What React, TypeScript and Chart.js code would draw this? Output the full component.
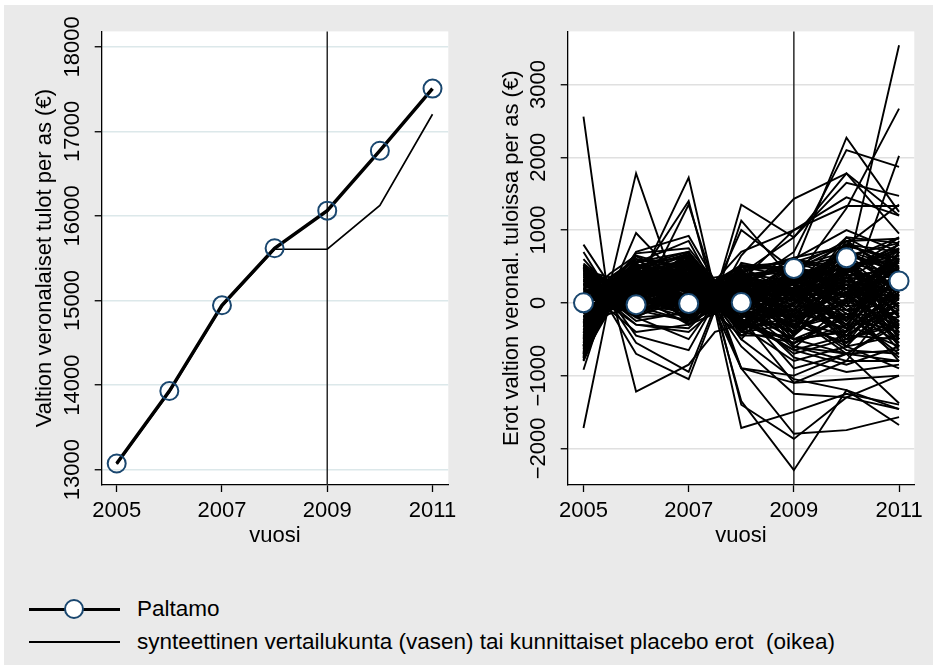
import React, { useEffect, useRef } from 'react';
import { Chart, registerables } from 'chart.js';

Chart.register(...registerables);

// ---------- data ----------
const years = [2005, 2006, 2007, 2008, 2009, 2010, 2011];
const paltamoIncome = [13072, 13929, 14943, 15618, 16062, 16771, 17506];
const syntheticIncome = [13063, 13915, 14930, 15606, 15606, 16125, 17202];
const paltamoGap = [0, -25, -10, 5, 471, 619, 300];

const placeboYears = [2005, 2005.5, 2006, 2007, 2007.5, 2008, 2009, 2010, 2011];
// each row: one municipality's placebo gap at placeboYears
const placeboOutliers: number[][] = [
  [2560, -60, 150, 80, 20, 120, 250, 380, 450],
  [-1720, 40, -250, -120, 60, -80, -300, -150, -350],
  [800, 250, 1780, -300, 100, 300, 150, 600, 900],
  [700, 120, 960, 200, -50, 250, 600, 1000, 700],
  [-920, 200, -1220, -850, -400, -300, -500, -200, -400],
  [300, 100, 200, 1720, 150, 400, 900, 1780, 1200],
  [100, 0, 300, 1400, 50, 1130, 300, 500, 600],
  [-200, 50, -100, 1350, 200, 1000, 450, 800, 1350],
  [400, 150, 700, 920, 300, 700, 1000, 1450, 1200],
  [-500, -100, -700, -1050, -100, -1720, -1500, -1250, -1400],
  [200, 50, -450, -650, 0, -1400, -1870, -1300, -1000],
  [-300, 0, -550, -950, -50, -1350, -2300, -1200, -1460],
  [500, 200, 400, 600, 100, -900, -1800, -1750, -1570],
  [-100, 100, 200, 300, 0, 650, 1430, 1780, 950],
  [150, 80, 300, 400, 100, 300, 500, 2270, 1250],
  [-50, 20, 100, -100, -30, 200, 700, 2100, 1870],
  [0, 0, -50, 100, 50, 100, 200, 400, 3540],
  [250, 100, 350, 200, 50, 400, 300, 1300, 2670],
  [100, 50, 0, -200, 0, 0, -200, 0, 2020],
  [-400, -50, -300, -350, 0, -500, -1050, -1200, -1680],
  [350, 150, 500, 650, 100, 1350, 900, 1650, 1470],
  [-600, -100, -400, -300, -50, -600, -1250, -1300, -1460],
  [600, 200, 550, 850, 200, 300, 1000, 1330, 1330],
  [-800, 0, -200, -500, 0, -900, -1100, -1050, -1000],
  [450, 100, 300, 500, 50, -200, -1100, -800, -800],
  [-700, 0, -300, -400, -100, -900, -1000, -700, -1380],
];
const placeboDense: number[][] = [
  [-780, 20, -150, 120, 30, -400, -550, -300, -600],
  [540, 250, 680, 750, 300, 520, 480, 850, 880],
  [-650, -100, 100, -300, -150, 200, -400, 600, -500],
  [300, 150, 420, 380, 200, 300, 100, -200, 300],
  [-200, 50, -180, 50, 0, -100, 300, 200, 650],
  [120, 300, 250, -250, 100, 450, -300, -550, -100],
  [-450, -50, 50, 400, 250, -300, 150, 700, 400],
  [450, 350, 600, 200, -100, 100, 500, 300, -300],
  [-700, 100, -100, 600, 150, 250, -500, -400, 200],
  [0, 200, 300, -100, 50, -450, 0, 450, 800],
  [-350, -150, -50, 250, 300, 500, 350, -100, -550],
  [200, 0, 150, 700, 50, -200, -100, 100, 100],
  [-550, 250, 450, -200, -50, 50, 250, 650, 500],
  [380, 100, -120, 100, 200, 350, -250, -450, 0],
  [-100, -80, 350, 500, 100, -350, 450, 250, -250],
  [-750, 300, 200, 0, -100, 150, -350, 800, 700],
  [250, 50, 500, -300, 0, -150, 200, -300, 350],
  [-300, 150, 0, 300, 350, 400, -450, 150, -450],
  [500, -50, 250, 650, 150, 0, 50, 500, 600],
  [-600, 200, -200, -150, 0, -500, 300, -600, 150],
  [50, 400, 650, 450, 250, 250, -150, 350, -150],
  [-400, 0, 100, -50, -150, 100, 550, 50, 450],
  [350, 250, 300, 150, 50, -250, -550, -200, -400],
  [-150, 100, -100, 550, 200, 300, 0, 750, 250],
  [150, -100, 400, 300, -50, 550, 400, -50, 750],
  [-500, 50, 550, -100, 100, -50, -200, 400, -350],
  [420, 300, 100, 200, 300, 200, 150, -450, 50],
  [-250, -50, 200, 400, 0, -400, -300, 200, 550],
  [-680, 150, 350, 100, 150, 50, 350, 600, -50],
  [280, 200, -50, -250, -100, 350, 250, 100, 200],
  [-50, 350, 500, 700, 250, -300, -100, -350, 850],
  [-720, -100, 0, 0, 50, 150, 100, 300, 100],
  [520, 50, 300, 350, 100, -100, -400, 550, -200],
  [-380, 250, 150, -200, 200, 450, 500, -100, 300],
  [80, 0, 600, 500, 0, 0, -50, 850, 400],
  [-480, 100, -150, 150, -50, -200, 200, -500, -300],
  [330, 150, 250, 600, 300, 250, -200, 50, 600],
  [-280, 300, 400, -50, 100, 100, 400, 250, -100],
  [480, -100, 50, 250, -150, -450, -450, 450, 50],
  [-620, 50, 200, 450, 150, 300, 50, -250, 700],
  [180, 200, -150, 100, 50, -350, 300, 700, -400],
  [-80, 0, 450, -150, 250, 200, -250, 0, 500],
  [-520, 150, 100, 350, 100, 500, 450, 350, 250],
  [400, 250, 550, 0, 0, -100, -500, -400, 150],
  [-180, -50, 250, 200, 200, 400, 150, 600, -500],
  [-760, 100, -50, 550, 50, -250, -150, 150, 350],
  [220, 300, 350, -100, 150, 150, 350, -150, -200],
  [-320, 50, 150, 450, -100, 0, -350, 500, 650],
  [100, 200, 500, 250, 250, 350, 200, -550, 0],
  [-420, 0, -100, -250, 50, -300, 0, 250, 300],
  [440, 100, 200, 650, 100, 250, 550, 100, -350],
  [-580, 250, 0, 100, 0, -150, -100, 650, 200],
  [20, 50, 300, 300, 150, 100, 250, -250, 450],
  [-700, 150, 250, 50, 200, 450, -450, 350, -50],
  [300, 0, 100, 400, 50, -400, 100, 800, 550],
  [-240, 300, 450, -300, 100, 200, 350, -350, 100],
  [180, 100, -200, 150, 0, 50, -250, 200, -450],
  [-460, 200, 350, 500, 300, -50, 450, 450, 750],
  [360, 50, 0, -50, 50, 300, -50, -100, -150],
  [-660, 100, 200, 200, 150, 0, 200, 100, 300],
  [-100, 0, 120, 180, 80, 200, -600, -700, -800],
  [420, 220, 380, 520, 180, 420, 620, 780, 600],
  [-560, -20, 80, 320, 120, -150, -700, -500, -250],
  [260, 120, 260, 80, 40, 60, 300, 650, 820],
  [-330, 80, -60, 220, 160, 280, -150, -650, -700],
  [60, 180, 420, 580, 220, -80, 420, 300, 150],
  [-740, 40, 160, 40, -60, -320, -800, -600, -900],
  [480, 300, 520, 300, 100, 180, 250, 900, 500],
  [-420, 120, 280, 460, 200, 380, 120, -300, 600],
  [150, -60, 80, -180, -80, -220, -650, -850, -600],
  [-260, 200, 340, 140, 60, 20, 500, 700, 300],
  [380, 80, 220, 420, 260, 460, -200, 150, -650],
  [-640, 160, 60, -80, 40, -380, 80, 550, 400],
  [40, 260, 560, 620, 180, 120, 380, -200, 700],
  [-520, -80, -120, 160, 100, 240, -500, -700, -300],
  [320, 160, 120, 260, 20, -280, 220, 400, 900],
  [-180, 60, 380, 40, 120, 520, -350, -150, -750],
  [-790, 200, 240, 360, 220, 80, 150, 250, 50],
  [500, 120, 460, 680, 240, 380, 480, 650, 450],
  [-360, 20, -40, -120, -40, -60, -750, -950, -850],
  [200, 320, 600, 500, 300, 160, 280, 500, -300],
  [-480, 140, 180, 280, 80, -200, 60, -400, 200],
  [100, 40, -80, 60, 160, 300, 520, 150, 600],
  [-600, 240, 300, -60, -20, 40, -300, 300, -600],
  [260, 100, 400, 560, 140, 220, -100, 850, 350],
  [-220, -40, 60, 380, 220, -120, 380, -50, 100],
  [440, 280, 480, 120, 60, 340, 180, -350, -100],
  [-700, 80, 120, 240, 40, -260, -650, -450, -500],
  [-20, 160, 320, 420, 260, 420, 600, 400, 800],
  [360, 40, 180, -40, 0, 120, -400, 50, 250],
  [-440, 220, 500, 300, 140, 60, 250, 750, 150],
  [140, 120, 40, 200, 100, -340, -200, -600, -450],
  [-300, 40, 260, 520, 180, 180, 400, 200, 500],
  [520, 200, 340, 460, 280, 500, 100, 600, -200],
  [-580, 100, 0, 100, 60, -80, -900, -700, -650],
  [0, 300, 440, 260, 200, 260, 320, 100, 450],
  [-150, 0, 200, 80, -60, 380, -100, 500, 700],
  [300, 220, 520, 360, 160, -40, 450, -100, 0],
  [-680, 60, 100, 420, 240, 100, -250, 350, -350],
  [220, 160, 300, 600, 80, 260, 150, 300, 550],
  [-540, 90, 30, -20, 70, 170, -120, -350, 380],
  [410, 260, 640, 330, 170, -60, 330, 560, -80],
  [-90, -30, 140, 560, 230, 310, 80, 200, -250],
  [-730, 140, -60, 240, 10, -190, 520, -250, 620],
  [190, 60, 280, 90, 120, 410, -330, 470, 180],
  [-410, 280, 410, 660, 280, 30, 200, -450, 420],
  [330, -20, 70, -130, -70, -280, 370, 80, -500],
  [-260, 170, 520, 410, 190, 230, -180, 620, 60],
  [470, 90, 310, 190, 30, 480, 560, 330, 730],
  [-610, 230, 170, 310, 130, -110, -420, 30, -320],
  [70, 110, 390, 470, 210, 330, 40, -500, 270],
  [-370, -60, -90, 90, -20, 70, 260, 720, 480],
  [240, 190, 560, 700, 270, -230, -560, -150, -700],
  [-500, 70, 230, -230, 60, 360, 430, 380, 350],
  [120, 240, 110, 330, 150, 130, -20, 900, 820],
  [-690, 10, 330, 150, 90, -350, -250, 250, -550],
  [390, 170, 440, 80, 240, 270, 290, -300, 580],
  [-140, 100, -20, 620, 110, -20, 600, 480, -180],
  [-470, 190, 260, 20, 170, 440, -600, -800, 120],
  [270, 30, 190, 510, 0, 90, 130, 120, 660],
  [-330, 250, 480, -170, 210, 210, 340, 680, -420],
  [450, 80, 20, 270, 70, -300, -300, -550, 300],
  [-590, 130, 390, 380, 250, 150, 180, 20, 40],
  [160, 210, 600, 150, 140, 360, 470, 600, -600],
  [-760, 60, 90, 480, 30, -70, -500, -380, 480],
  [310, 140, 360, -200, 100, 20, 80, 350, 250],
  [-200, 20, 180, 340, 270, 500, 560, 780, 90],
  [410, 310, 500, 560, 190, -170, -180, -700, -250],
  [-640, 80, 50, 60, -30, 210, 30, 420, 750],
  [30, 180, 270, 640, 220, -60, -620, 0, -800],
];

const leftYTicks = [13000, 14000, 15000, 16000, 17000, 18000];
const rightYTicks = [-2000, -1000, 0, 1000, 2000, 3000];
const xTicks = [2005, 2007, 2009, 2011];
const treatmentYear = 2009;

const leftTitle = 'Valtion veronalaiset tulot per as (€)';
const rightTitle = 'Erot valtion veronal. tuloissa per as (€)';
const xTitle = 'vuosi';
const legendLabels = ['Paltamo', 'synteettinen vertailukunta (vasen) tai kunnittaiset placebo erot  (oikea)'];

// ---------- styling ----------
const FONT = "'Liberation Sans', Arial, Helvetica, sans-serif";
const MARKER = '#1a476f';

const areaPlugin = {
  id: 'areaAndXline',
  beforeDraw(chart: any) {
    const { ctx, chartArea } = chart;
    ctx.save();
    ctx.fillStyle = '#ffffff';
    ctx.fillRect(chartArea.left, chartArea.top, chartArea.right - chartArea.left, chartArea.bottom - chartArea.top);
    ctx.restore();
  },
  beforeDatasetsDraw(chart: any) {
    const { ctx, chartArea, scales } = chart;
    const x = scales.x.getPixelForValue(treatmentYear);
    ctx.save();
    ctx.strokeStyle = '#2a2a2a';
    ctx.lineWidth = 1.5;
    ctx.beginPath();
    ctx.moveTo(x, chartArea.top);
    ctx.lineTo(x, chartArea.bottom);
    ctx.stroke();
    ctx.restore();
  },
};

function fmt(v: number) {
  return v < 0 ? '\u2212' + String(Math.abs(v)) : String(v);
}

function makeOptions(o: {
  xMin: number; xMax: number; yMin: number; yMax: number; yTicks: number[];
  yWidth: number; padRight: number; title: string; titlePad: number; tickPad: number; gridColor: string;
}) {
  const font = { family: FONT, size: 22 };
  return {
    responsive: false,
    maintainAspectRatio: false,
    animation: false,
    events: [],
    layout: { padding: { top: 31.4, right: o.padRight, left: 0, bottom: 0 } },
    plugins: { legend: { display: false }, tooltip: { enabled: false } },
    scales: {
      x: {
        type: 'linear',
        min: o.xMin,
        max: o.xMax,
        afterBuildTicks: (s: any) => { s.ticks = xTicks.map((v) => ({ value: v })); },
        afterFit: (s: any) => { s.height = 75; s.paddingLeft = 0; s.paddingRight = 0; },
        grid: { drawOnChartArea: false, drawTicks: true, tickLength: 7, tickColor: '#000', tickWidth: 1.3 },
        border: { display: true, color: '#000', width: 1.3 },
        ticks: { color: '#000', font, padding: 6, autoSkip: false, maxRotation: 0, callback: (v: any) => String(v) },
        title: { display: true, text: xTitle, color: '#000', font, padding: { top: 0, bottom: 10.8 } },
      },
      y: {
        type: 'linear',
        min: o.yMin,
        max: o.yMax,
        afterBuildTicks: (s: any) => { s.ticks = o.yTicks.map((v) => ({ value: v })); },
        afterFit: (s: any) => { s.width = o.yWidth; s.paddingTop = 0; s.paddingBottom = 0; },
        grid: { color: o.gridColor, lineWidth: 1.5, drawTicks: true, tickLength: 7, tickColor: '#000', tickWidth: 1.3 },
        border: { display: true, color: '#000', width: 1.3 },
        ticks: {
          color: '#000', font, padding: o.tickPad, autoSkip: false,
          minRotation: 90, maxRotation: 90, crossAlign: 'center',
          callback: (v: any) => fmt(Number(v)),
        },
        title: { display: true, text: o.title, color: '#000', font, padding: { top: o.titlePad, bottom: 0 } },
      },
    },
  };
}

function LeftChart() {
  const ref = useRef<HTMLCanvasElement>(null);
  useEffect(() => {
    const chart = new Chart(ref.current as HTMLCanvasElement, {
      type: 'line',
      data: {
        datasets: [
          {
            data: years.map((x, i) => ({ x, y: paltamoIncome[i] })),
            borderColor: '#000', borderWidth: 3.5,
            pointRadius: 9, pointBorderWidth: 2, pointBorderColor: MARKER, pointBackgroundColor: 'rgba(0,0,0,0)',
            tension: 0,
          },
          {
            data: years.map((x, i) => ({ x, y: syntheticIncome[i] })),
            borderColor: '#000', borderWidth: 1.7, pointRadius: 0, tension: 0,
          },
        ],
      },
      options: makeOptions({
        xMin: 2004.715, xMax: 2011.3, yMin: 12818, yMax: 18182, yTicks: leftYTicks,
        yWidth: 101.7, padRight: 17.7, title: leftTitle, titlePad: 31.7, tickPad: -8.7, gridColor: '#dce8ea',
      }) as any,
      plugins: [areaPlugin],
    });
    return () => chart.destroy();
  }, []);
  return <canvas ref={ref} width={466} height={560} style={{ position: 'absolute', left: 0, top: 0 }} />;
}

function RightChart() {
  const ref = useRef<HTMLCanvasElement>(null);
  useEffect(() => {
    const lines = [...placeboOutliers, ...placeboDense].map((row) => ({
      data: row.map((v, i) => ({ x: placeboYears[i], y: v })),
      borderColor: '#000', borderWidth: 1.9, pointRadius: 0, tension: 0,
    }));
    const chart = new Chart(ref.current as HTMLCanvasElement, {
      type: 'line',
      data: {
        datasets: [
          {
            data: years.map((x, i) => ({ x, y: paltamoGap[i] })),
            showLine: false,
            pointRadius: 9.5, pointBorderWidth: 2, pointBorderColor: MARKER, pointBackgroundColor: '#ffffff',
          } as any,
          ...lines,
        ],
      },
      options: makeOptions({
        xMin: 2004.70, xMax: 2011.29, yMin: -2504, yMax: 3731, yTicks: rightYTicks,
        yWidth: 97.7, padRight: 18.7, title: rightTitle, titlePad: 28.5, tickPad: -9.2, gridColor: '#e0e0e0',
      }) as any,
      plugins: [areaPlugin],
    });
    return () => chart.destroy();
  }, []);
  return <canvas ref={ref} width={463} height={560} style={{ position: 'absolute', left: 470, top: 0 }} />;
}

function Legend() {
  const text: React.CSSProperties = { position: 'absolute', left: 137, fontFamily: FONT, fontSize: 22.5, color: '#000', lineHeight: '26px', whiteSpace: 'pre' };
  return (
    <>
      <div style={{ position: 'absolute', left: 29, top: 607.5, width: 91, height: 3.4, background: '#000' }} />
      <div style={{ position: 'absolute', left: 64, top: 599, width: 16, height: 16, borderRadius: '50%', border: `2px solid ${MARKER}`, background: '#fff' }} />
      <div style={{ ...text, top: 596 }}>{legendLabels[0]}</div>
      <div style={{ position: 'absolute', left: 29, top: 641, width: 91, height: 1.8, background: '#000' }} />
      <div style={{ ...text, top: 629 }}>{legendLabels[1]}</div>
    </>
  );
}

export default function App() {
  return (
    <div style={{ position: 'absolute', left: 0, top: 0, width: 933, height: 665, background: '#ffffff', overflow: 'hidden' }}>
      <div style={{ position: 'absolute', left: 4, top: 5, width: 929, height: 660, background: '#eaeaea' }} />
      <LeftChart />
      <RightChart />
      <Legend />
    </div>
  );
}
